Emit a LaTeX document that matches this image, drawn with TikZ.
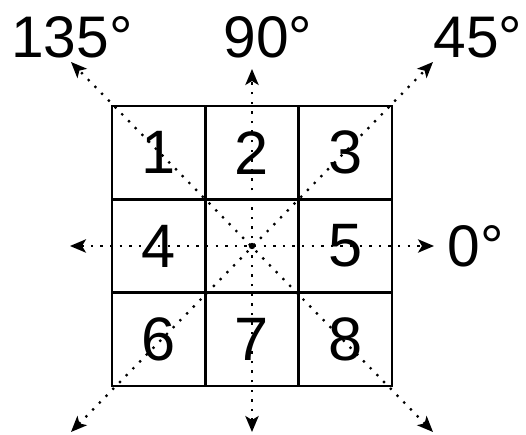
\documentclass[tikz,border=0pt]{standalone}
\usepackage{fontspec}
\setmainfont{Liberation Sans}
\usetikzlibrary{arrows.meta}

\begin{document}
\begin{tikzpicture}[
  x=0.75pt, y=0.75pt,
  cell/.style={draw, line width=2pt, minimum size=70pt, inner sep=0pt,
               font=\fontsize{46}{46}\selectfont},
  dirline/.style={{Stealth[length=12pt, width=10pt, inset=3pt]}-{Stealth[length=12pt, width=10pt, inset=3pt]},
                  line width=1.7pt, dash pattern=on 1.7pt off 5.5pt},
  anglabel/.style={font=\fontsize{44}{44}\selectfont, inner sep=0pt},
]
\useasboundingbox (-252,-189) rectangle (274,246);
% grid of cells
\node[cell] (c1) at (-93.3, 93.3) {1};
\node[cell] (c2) at (   0, 93.3) {2};
\node[cell] (c3) at ( 93.3, 93.3) {3};
\node[cell] (c4) at (-93.3,    0) {4};
\node[cell] (c5) at ( 93.3,    0) {5};
\node[cell] (c6) at (-93.3,-93.3) {6};
\node[cell] (c7) at (   0,-93.3) {7};
\node[cell] (c8) at ( 93.3,-93.3) {8};
\node[cell] (mid) at (0,0) {};
% arrow ends
\coordinate (e)  at ( 182,    0);
\coordinate (w)  at (-182,    0);
\coordinate (n)  at (   0,  177);
\coordinate (s)  at (   0, -186);
\coordinate (ne) at ( 181,  184);
\coordinate (sw) at (-181, -186);
\coordinate (nw) at (-181,  184);
\coordinate (se) at ( 181, -186);
\draw[dirline] (w) -- (e);
\draw[dirline] (s) -- (n);
\draw[dirline] (sw) -- (ne);
\draw[dirline] (se) -- (nw);
\fill (mid.center) circle (2.4pt);
% angle labels
\node[anglabel] (a0)   at (224,   0) {0°};
\node[anglabel] (a45)  at (226, 209) {45°};
\node[anglabel] (a90)  at ( 16, 209) {90°};
\node[anglabel] (a135) at (-180, 209) {135°};
\end{tikzpicture}
\end{document}
